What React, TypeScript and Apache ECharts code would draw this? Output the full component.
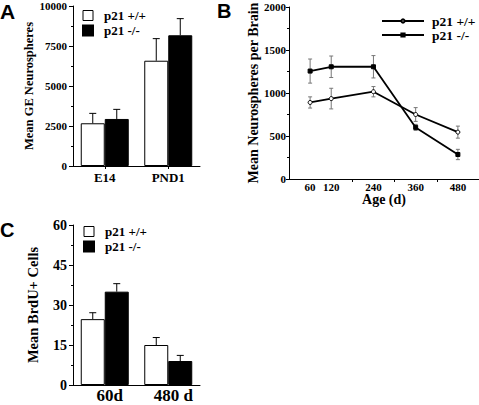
import React, { useEffect, useRef } from "react";
import * as echarts from "echarts";

// Panel A
const catsA = ["E14", "PND1"];
const wtA = [2670, 6580];
const wtAErr = [620, 1380];
const koA = [2940, 8170];
const koAErr = [600, 1040];

// Panel B
const agesB = [60, 120, 240, 360, 480];
const wtB = [890, 935, 1015, 750, 545];
const wtBErr = [65, 120, 60, 80, 70];
const koB = [1255, 1305, 1305, 600, 285];
const koBErr = [140, 125, 130, 35, 60];
const xLabelsB = [60, 120, 240, 360, 480];
const xTicksB = [180, 300, 420, 540];

// Panel C
const catsC = ["60d", "480 d"];
const wtC = [24.7, 15.0];
const wtCErr = [2.4, 2.8];
const koC = [35.0, 9.0];
const koCErr = [3.0, 2.1];

const legendNames: Record<string, string> = {
  wtA: "p21 +/+",
  koA: "p21 -/-",
  wtB: "p21 +/+",
  koB: "p21 -/-",
  wtC: "p21 +/+",
  koC: "p21 -/-",
};

const SERIF = '"Liberation Serif", "Times New Roman", serif';
const txt = (size: number) => ({
  fontFamily: SERIF,
  fontWeight: "bold" as const,
  fontSize: size,
  color: "#000",
});
const plain = (v: number) => String(v);

const upErr = (offset: number, cap: number) => (params: any, api: any) => {
  const x = api.value(0);
  const y = api.value(1);
  const e = api.value(2);
  const p0 = api.coord([x, y]);
  const p1 = api.coord([x, y + e]);
  const cx = p0[0] + offset;
  return {
    type: "group",
    children: [
      { type: "line", shape: { x1: cx, y1: p0[1], x2: cx, y2: p1[1] }, style: { stroke: "#000", lineWidth: 1 } },
      { type: "line", shape: { x1: cx - cap, y1: p1[1], x2: cx + cap, y2: p1[1] }, style: { stroke: "#000", lineWidth: 1 } },
    ],
  };
};

const bothErr = (cap: number, color: string) => (params: any, api: any) => {
  const x = api.value(0);
  const y = api.value(1);
  const e = api.value(2);
  const p0 = api.coord([x, y - e]);
  const p1 = api.coord([x, y + e]);
  const cx = p0[0];
  return {
    type: "group",
    children: [
      { type: "line", shape: { x1: cx, y1: p0[1], x2: cx, y2: p1[1] }, style: { stroke: color, lineWidth: 1 } },
      { type: "line", shape: { x1: cx - cap, y1: p1[1], x2: cx + cap, y2: p1[1] }, style: { stroke: color, lineWidth: 1 } },
      { type: "line", shape: { x1: cx - cap, y1: p0[1], x2: cx + cap, y2: p0[1] }, style: { stroke: color, lineWidth: 1 } },
    ],
  };
};

const axisLine = { show: true, lineStyle: { color: "#000", width: 1 } };

export default function App() {
  const ref = useRef<HTMLDivElement>(null);
  useEffect(() => {
    if (!ref.current) return;
    const chart = echarts.init(ref.current, null, { renderer: "svg" });
    const BW = 24;
    const option: any = {
      animation: false,
      backgroundColor: "#fff",
      grid: [
        { left: 73, top: 6, width: 127, height: 160, outerBoundsMode: "none" },
        { left: 289, top: 7, width: 190, height: 172, outerBoundsMode: "none" },
        { left: 73, top: 225, width: 127, height: 160, outerBoundsMode: "none" },
      ],
      xAxis: [
        {
          gridIndex: 0,
          type: "category",
          data: catsA,
          axisLine,
          axisTick: { show: true, alignWithLabel: true, length: 3, lineStyle: { color: "#000" } },
          axisLabel: { ...txt(13), margin: 5 },
        },
        {
          gridIndex: 1,
          type: "value",
          min: 0,
          max: 540,
          axisLine,
          splitLine: { show: false },
          axisTick: { show: true, length: 3, customValues: xTicksB, lineStyle: { color: "#000" } },
          axisLabel: { ...txt(11), margin: 2, customValues: xLabelsB, formatter: plain },
          name: "Age (d)",
          nameLocation: "middle",
          nameGap: 13,
          nameTextStyle: { ...txt(14), verticalAlign: "top" },
        },
        {
          gridIndex: 2,
          type: "category",
          data: catsC,
          axisLine,
          axisTick: { show: false },
          axisLabel: { ...txt(17), margin: 2, padding: [0, 0, 0, 10] },
        },
      ],
      yAxis: [
        {
          gridIndex: 0,
          type: "value",
          min: 0,
          max: 10000,
          interval: 2500,
          axisLine,
          splitLine: { show: false },
          axisTick: { show: true, length: 4, lineStyle: { color: "#000" } },
          minorTick: { show: true, splitNumber: 2, length: 2, lineStyle: { color: "#000" } },
          axisLabel: { ...txt(11), margin: 6, formatter: plain },
          name: "Mean GE Neurospheres",
          nameLocation: "middle",
          nameGap: 34,
          nameTextStyle: txt(12.5),
        },
        {
          gridIndex: 1,
          type: "value",
          min: 0,
          max: 2000,
          interval: 500,
          axisLine,
          splitLine: { show: false },
          axisTick: { show: true, length: 3, lineStyle: { color: "#000" } },
          minorTick: { show: true, splitNumber: 2, length: 2, lineStyle: { color: "#000" } },
          axisLabel: { ...txt(11), margin: 3, formatter: plain },
          name: "Mean Neurospheres per Brain",
          nameLocation: "middle",
          nameGap: 27,
          nameTextStyle: txt(14),
        },
        {
          gridIndex: 2,
          type: "value",
          min: 0,
          max: 60,
          interval: 15,
          axisLine,
          splitLine: { show: false },
          axisTick: { show: true, length: 4, lineStyle: { color: "#000" } },
          minorTick: { show: true, splitNumber: 2, length: 2, lineStyle: { color: "#000" } },
          axisLabel: { ...txt(14), margin: 6, formatter: plain },
          name: "Mean BrdU+ Cells",
          nameLocation: "middle",
          nameGap: 33,
          nameTextStyle: txt(14.5),
        },
      ],
      legend: [
        {
          orient: "vertical",
          left: 82,
          top: 9,
          padding: 0,
          itemWidth: 10,
          itemHeight: 10,
          itemGap: 2,
          formatter: (n: string) => legendNames[n],
          textStyle: { ...txt(13), lineHeight: 12, padding: [0, 0, 0, 6] },
          data: [
            { name: "wtA", icon: "rect", itemStyle: { color: "#fff", borderColor: "#000", borderWidth: 1 } },
            { name: "koA", icon: "rect", itemStyle: { color: "#000" } },
          ],
          selectedMode: false,
        },
        {
          orient: "vertical",
          left: 381,
          top: 14,
          padding: 0,
          itemWidth: 42,
          itemHeight: 4,
          itemGap: 0,
          formatter: (n: string) => legendNames[n],
          textStyle: { ...txt(13.5), lineHeight: 13, padding: [0, 0, 0, 3] },
          data: ["wtB", "koB"],
          selectedMode: false,
        },
        {
          orient: "vertical",
          left: 83,
          top: 225,
          padding: 0,
          itemWidth: 10,
          itemHeight: 10,
          itemGap: 2,
          formatter: (n: string) => legendNames[n],
          textStyle: { ...txt(13), lineHeight: 12, padding: [0, 0, 0, 6] },
          data: [
            { name: "wtC", icon: "rect", itemStyle: { color: "#fff", borderColor: "#000", borderWidth: 1 } },
            { name: "koC", icon: "rect", itemStyle: { color: "#000" } },
          ],
          selectedMode: false,
        },
      ],
      series: [
        // Panel A
        {
          name: "wtA",
          type: "bar",
          xAxisIndex: 0,
          yAxisIndex: 0,
          data: wtA,
          barWidth: BW,
          barGap: "0%",
          itemStyle: { color: "#fff", borderColor: "#000", borderWidth: 1 },
        },
        {
          name: "koA",
          type: "bar",
          xAxisIndex: 0,
          yAxisIndex: 0,
          data: koA,
          barWidth: BW,
          barGap: "0%",
          itemStyle: { color: "#000", borderColor: "#000", borderWidth: 1 },
        },
        {
          type: "custom",
          xAxisIndex: 0,
          yAxisIndex: 0,
          renderItem: upErr(-BW / 2, 3.5),
          data: wtA.map((v, i) => [i, v, wtAErr[i]]),
          encode: { x: 0, y: 1 },
          z: 3,
        },
        {
          type: "custom",
          xAxisIndex: 0,
          yAxisIndex: 0,
          renderItem: upErr(BW / 2, 3.5),
          data: koA.map((v, i) => [i, v, koAErr[i]]),
          encode: { x: 0, y: 1 },
          z: 3,
        },
        // Panel B
        {
          type: "custom",
          xAxisIndex: 1,
          yAxisIndex: 1,
          renderItem: bothErr(2, "#777"),
          data: agesB.map((a, i) => [a, wtB[i], wtBErr[i]]),
          encode: { x: 0, y: 1 },
          z: 1,
        },
        {
          type: "custom",
          xAxisIndex: 1,
          yAxisIndex: 1,
          renderItem: bothErr(2, "#777"),
          data: agesB.map((a, i) => [a, koB[i], koBErr[i]]),
          encode: { x: 0, y: 1 },
          z: 1,
        },
        {
          name: "wtB",
          type: "line",
          xAxisIndex: 1,
          yAxisIndex: 1,
          data: agesB.map((a, i) => [a, wtB[i]]),
          symbol: "circle",
          symbolSize: 4,
          lineStyle: { color: "#000", width: 1.8 },
          itemStyle: { color: "#fff", borderColor: "#000", borderWidth: 1 },
          z: 2,
        },
        {
          name: "koB",
          type: "line",
          xAxisIndex: 1,
          yAxisIndex: 1,
          data: agesB.map((a, i) => [a, koB[i]]),
          symbol: "rect",
          symbolSize: 4,
          lineStyle: { color: "#000", width: 1.8 },
          itemStyle: { color: "#000", borderColor: "#000", borderWidth: 1 },
          z: 2,
        },
        // Panel C
        {
          name: "wtC",
          type: "bar",
          xAxisIndex: 2,
          yAxisIndex: 2,
          data: wtC,
          barWidth: BW,
          barGap: "0%",
          itemStyle: { color: "#fff", borderColor: "#000", borderWidth: 1 },
        },
        {
          name: "koC",
          type: "bar",
          xAxisIndex: 2,
          yAxisIndex: 2,
          data: koC,
          barWidth: BW,
          barGap: "0%",
          itemStyle: { color: "#000", borderColor: "#000", borderWidth: 1 },
        },
        {
          type: "custom",
          xAxisIndex: 2,
          yAxisIndex: 2,
          renderItem: upErr(-BW / 2, 3.5),
          data: wtC.map((v, i) => [i, v, wtCErr[i]]),
          encode: { x: 0, y: 1 },
          z: 3,
        },
        {
          type: "custom",
          xAxisIndex: 2,
          yAxisIndex: 2,
          renderItem: upErr(BW / 2, 3.5),
          data: koC.map((v, i) => [i, v, koCErr[i]]),
          encode: { x: 0, y: 1 },
          z: 3,
        },
      ],
      graphic: [
        { type: "text", left: 0, top: 1, style: { text: "A", fontFamily: '"Liberation Sans", Arial, sans-serif', fontWeight: "bold", fontSize: 21, fill: "#000" } },
        { type: "text", left: 217, top: 1, style: { text: "B", fontFamily: '"Liberation Sans", Arial, sans-serif', fontWeight: "bold", fontSize: 20, fill: "#000" } },
        { type: "text", left: 0, top: 220, style: { text: "C", fontFamily: '"Liberation Sans", Arial, sans-serif', fontWeight: "bold", fontSize: 20, fill: "#000" } },
      ],
    };
    chart.setOption(option);
    return () => chart.dispose();
  }, []);
  return (
    <div
      ref={ref}
      style={{ position: "fixed", left: 0, top: 0, width: 479, height: 405, background: "#fff" }}
    />
  );
}
